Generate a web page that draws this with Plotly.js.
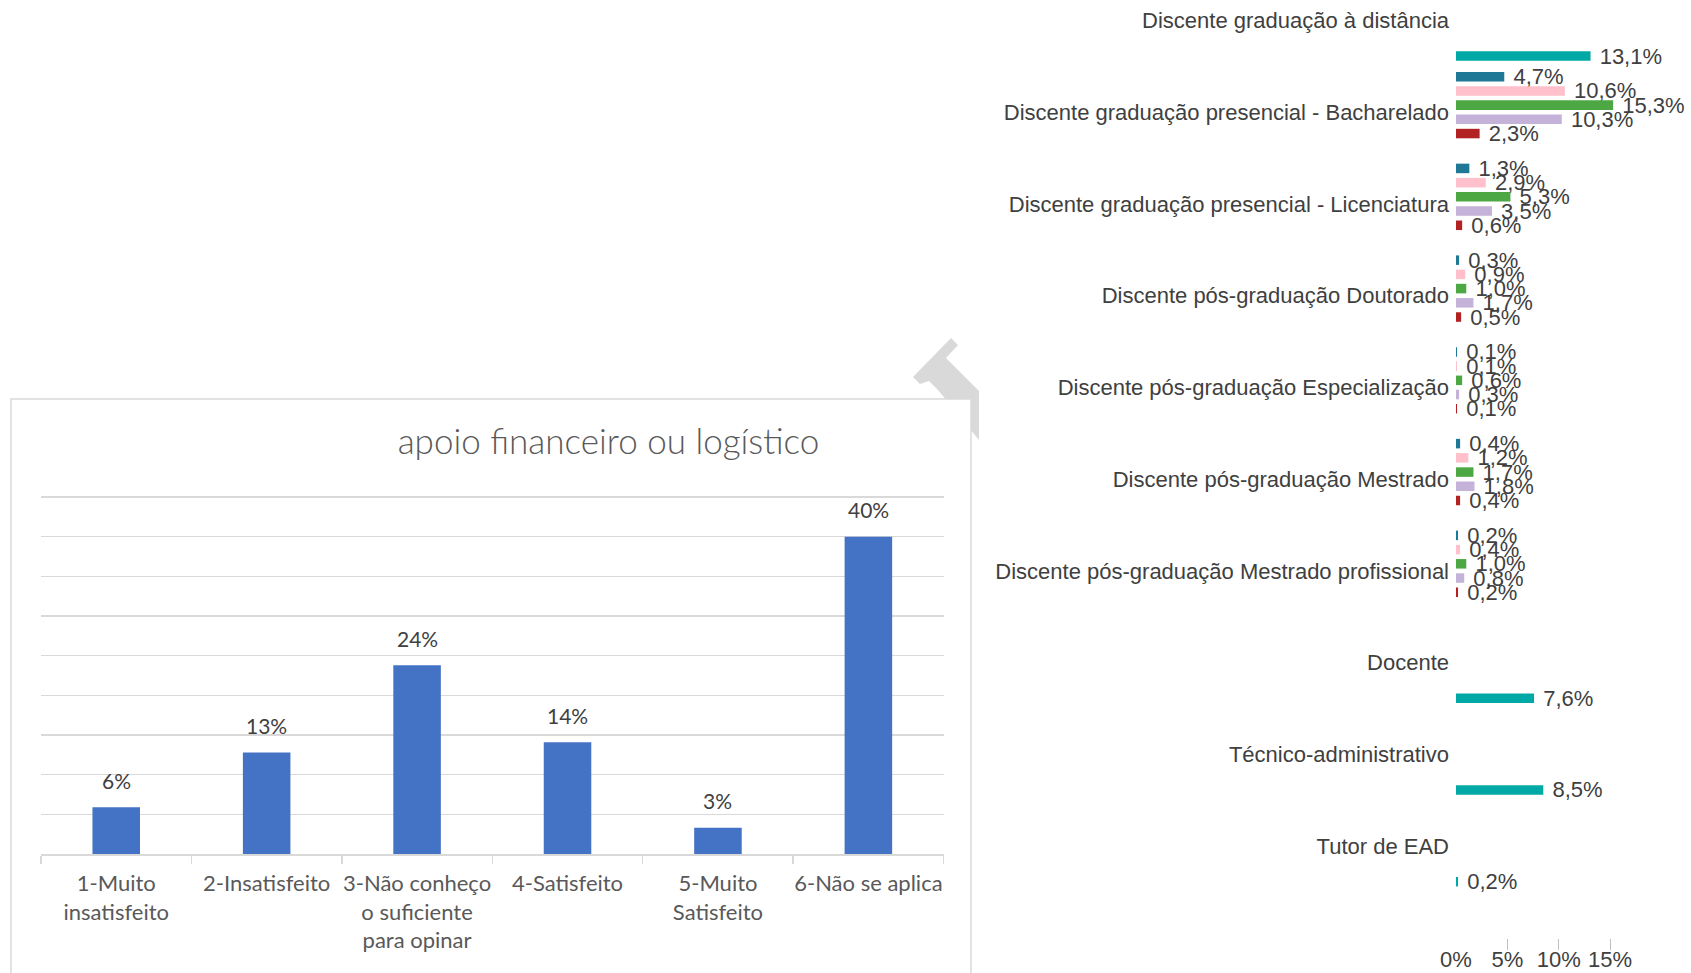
<!DOCTYPE html>
<html>
<head>
<meta charset="utf-8">
<script src="https://cdn.plot.ly/plotly-3.0.1.min.js"></script>
<style>html,body{margin:0;padding:0;background:#fff;}#chart{width:1691px;height:973px;}</style>
</head>
<body>
<div id="chart"></div>
<script>
// ---- Left chart data ----
const leftCategories = ['1-Muito insatisfeito','2-Insatisfeito','3-Não conheço o suficiente para opinar','4-Satisfeito','5-Muito Satisfeito','6-Não se aplica'];
const leftTickLabels = ['1-Muito<br>insatisfeito','2-Insatisfeito','3-Não conheço<br>o suficiente<br>para opinar','4-Satisfeito','5-Muito<br>Satisfeito','6-Não se aplica'];
const leftValues = [5.9, 12.8, 23.8, 14.1, 3.3, 40.0];
const leftTitle = 'apoio financeiro ou logístico';

// ---- Right chart data ----
const groups = [
  'Discente graduação à distância',
  'Discente graduação presencial - Bacharelado',
  'Discente graduação presencial - Licenciatura',
  'Discente pós-graduação Doutorado',
  'Discente pós-graduação Especialização',
  'Discente pós-graduação Mestrado',
  'Discente pós-graduação Mestrado profissional',
  'Docente',
  'Técnico-administrativo',
  'Tutor de EAD'
];
const serieBlue     = [null, 4.7, 1.3, 0.3, 0.1, 0.4, 0.2, null, null, null];
const seriePink     = [null, 10.6, 2.9, 0.9, 0.1, 1.2, 0.4, null, null, null];
const serieGreen    = [null, 15.3, 5.3, 1.0, 0.6, 1.7, 1.0, null, null, null];
const serieLavender = [null, 10.3, 3.5, 1.7, 0.3, 1.8, 0.8, null, null, null];
const serieRed      = [null, 2.3, 0.6, 0.5, 0.1, 0.4, 0.2, null, null, null];
const serieTeal     = [13.1, null, null, null, null, null, null, 7.6, 8.5, 0.2];
const rightTicks = [0, 5, 10, 15];
const rightTickLabels = ['0%', '5%', '10%', '15%'];

// ---- helpers: pixel -> paper ----
const W = 1691, H = 973;
const px = x => x / W;
const py = y => 1 - y / H;

const rightSeries = [
  {name: 'Série 1', values: serieBlue, color: '#1E7896'},
  {name: 'Série 2', values: seriePink, color: '#FFC0CB'},
  {name: 'Série 3', values: serieGreen, color: '#4DA843'},
  {name: 'Série 4', values: serieLavender, color: '#C4B2D8'},
  {name: 'Série 5', values: serieRed, color: '#B22222'},
  {name: 'Série 6', values: serieTeal, color: '#00A9A5'}
];

const rightFont = {family: 'Liberation Sans, Arial, sans-serif', size: 22, color: '#404040'};
const leftFontFamily = 'Lato, Carlito, Calibri, sans-serif';

const traces = [{
  type: 'bar',
  x: leftCategories,
  y: leftValues,
  xaxis: 'x', yaxis: 'y',
  width: 0.316,
  marker: {color: '#4472C4'},
  hoverinfo: 'skip',
  showlegend: false
}];

rightSeries.forEach(s => {
  traces.push({
    type: 'bar',
    orientation: 'h',
    name: s.name,
    y: groups,
    x: s.values,
    xaxis: 'x2', yaxis: 'y2',
    marker: {color: s.color},
    texttemplate: ' %{x:.1f}%',
    textposition: 'outside',
    constraintext: 'none',
    cliponaxis: false,
    textfont: rightFont,
    hoverinfo: 'skip',
    showlegend: false
  });
});

const annotations = leftCategories.map((c, i) => ({
  x: c, y: leftValues[i], xref: 'x', yref: 'y',
  text: Math.round(leftValues[i]) + '%',
  showarrow: false, yanchor: 'middle', yshift: 27,
  font: {family: leftFontFamily, size: 21, color: '#404040'}
}));

const watermark = [[913,377],[951,338],[958,345],[946,358],[979,391],[979,440],[938,390],[929,381],[920,384]];
const wmPath = 'M ' + watermark.map(p => px(p[0]) + ' ' + py(p[1])).join(' L ') + ' Z';

const yTop = 854 - 45.3 * ((854 - 497) / 45);

const layout = {
  width: W, height: H,
  margin: {l: 0, r: 0, t: 0, b: 0},
  paper_bgcolor: '#ffffff',
  plot_bgcolor: 'rgba(0,0,0,0)',
  separators: ',.',
  barmode: 'group',
  bargap: 0.07,
  bargroupgap: 0.33,
  showlegend: false,
  title: {
    text: leftTitle,
    x: px(608.5), xref: 'paper', xanchor: 'center',
    y: py(442), yref: 'paper', yanchor: 'middle',
    font: {family: leftFontFamily, size: 35, color: '#595959', weight: 300}
  },
  xaxis: {
    domain: [px(41), px(943.6)],
    anchor: 'y',
    type: 'category',
    range: [-0.5, 5.5],
    tickvals: leftCategories,
    ticktext: leftTickLabels,
    tickangle: 0,
    ticks: 'outside', tickson: 'boundaries', ticklen: 8,
    tickcolor: '#d9d9d9', tickwidth: 1.5,
    showline: true, linecolor: '#d9d9d9', linewidth: 1.5,
    showgrid: false, zeroline: false,
    tickfont: {family: leftFontFamily, size: 22, color: '#595959'},
    ticklabelstandoff: 9,
    fixedrange: true
  },
  yaxis: {
    domain: [py(854), py(yTop)],
    anchor: 'x',
    range: [0, 45.3],
    dtick: 5, tick0: 0,
    showgrid: true, gridcolor: '#d9d9d9', gridwidth: 1.5,
    showticklabels: false, ticks: '',
    zeroline: false, showline: false,
    fixedrange: true
  },
  xaxis2: {
    domain: [px(1456), px(1456 + 16 * 10.27)],
    anchor: 'free',
    position: py(950),
    range: [0, 16],
    tickvals: rightTicks,
    ticktext: rightTickLabels,
    ticks: 'inside', ticklen: 11, tickcolor: '#bfbfbf', tickwidth: 1,
    showline: false, showgrid: false, zeroline: false,
    tickfont: rightFont,
    ticklabelstandoff: -6,
    fixedrange: true
  },
  yaxis2: {
    domain: [py(892), 1],
    anchor: 'x2',
    type: 'category',
    categoryarray: groups,
    range: [9.5, -0.2234],
    ticks: '',
    showline: false, showgrid: false, zeroline: false,
    tickfont: rightFont,
    ticklabelstandoff: 6,
    fixedrange: true
  },
  annotations: annotations,
  shapes: [
    {type: 'path', path: wmPath, xref: 'paper', yref: 'paper', fillcolor: '#d9d9d9', line: {width: 0}, layer: 'below'},
    {type: 'rect', xref: 'paper', yref: 'paper', x0: px(11), x1: px(971), y0: py(399), y1: py(1000),
     fillcolor: '#ffffff', line: {color: '#d9d9d9', width: 1.5}, layer: 'below'}
  ]
};

Plotly.newPlot('chart', traces, layout, {displayModeBar: false, staticPlot: true});
</script>
</body>
</html>
